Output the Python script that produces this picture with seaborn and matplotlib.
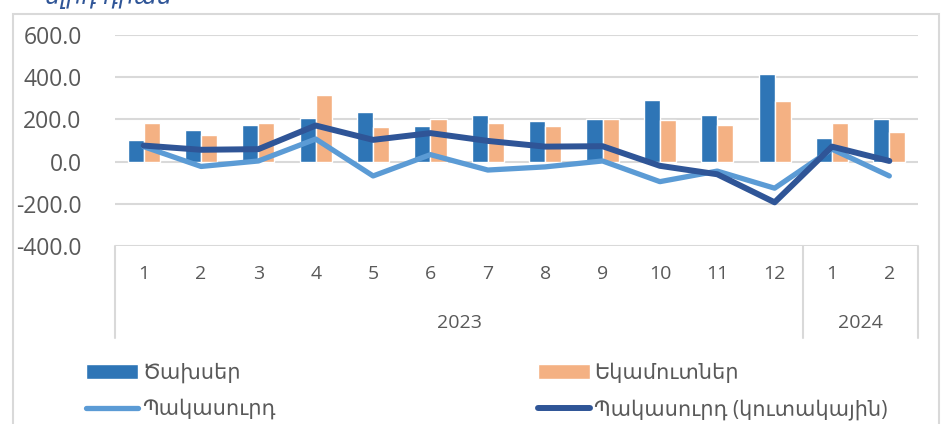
"""Budget expenditures, revenues and deficit by month (2023-2024)."""

import matplotlib

matplotlib.use("Agg")
import matplotlib.pyplot as plt
import matplotlib.transforms as mtransforms
import pandas as pd
import seaborn as sns
from matplotlib.patches import Rectangle

# ---- data --------------------------------------------------------------
months = ["1", "2", "3", "4", "5", "6", "7", "8", "9", "10", "11", "12", "1", "2"]
years = ["2023", "2024"]
year_first = [0, 12]   # first month index of each year
year_last = [11, 13]   # last month index of each year

expenditures = [103, 150, 174, 205, 234, 169, 222, 191, 200, 292, 219, 414, 112, 202]
revenues = [182, 126, 182, 316, 164, 203, 183, 168, 203, 197, 174, 287, 183, 138]
deficit = [71, -23, 3, 107, -68, 33, -40, -25, 3, -95, -45, -126, 59, -68]
deficit_cum = [76, 56, 59, 171, 103, 135, 98, 71, 73, -20, -60, -193, 71, 3]

y_ticks = [-400, -200, 0, 200, 400, 600]

lbl_exp = "Ծախսեր"
lbl_rev = "Եկամուտներ"
lbl_def = "Պակասուրդ"
lbl_cum = "Պակասուրդ (կուտակային)"
title = "մլրդ դրամ"

# ---- styling ------------------------------------------------------------
BAR_COLORS = {lbl_exp: "#2E75B6", lbl_rev: "#F4B183"}
LINE_COLORS = {lbl_def: "#5B9BD5", lbl_cum: "#2F5597"}
GRID = "#D9D9D9"
TEXT = "#595959"

sns.set_theme(style="white")
plt.rcParams["font.family"] = ["Open Sans", "DejaVu Sans"]

pos = list(range(len(months)))
bars = pd.DataFrame(
    {
        "pos": pos * 2,
        "value": expenditures + revenues,
        "series": [lbl_exp] * len(pos) + [lbl_rev] * len(pos),
    }
)
lines = pd.DataFrame(
    {
        "pos": pos * 2,
        "value": deficit + deficit_cum,
        "series": [lbl_def] * len(pos) + [lbl_cum] * len(pos),
    }
)

fig = plt.figure(figsize=(9.49, 4.24), dpi=100)
ax = fig.add_axes([115 / 949, 1 - 246 / 424, (918 - 115) / 949, (246 - 35) / 424])

sns.barplot(
    data=bars, x="pos", y="value", hue="series", palette=BAR_COLORS,
    width=0.56, gap=0, saturation=1, ax=ax, zorder=2,
)
sns.lineplot(
    data=lines[lines.series == lbl_def], x="pos", y="value", color=LINE_COLORS[lbl_def],
    lw=3.8, label=lbl_def, ax=ax, zorder=3, solid_capstyle="round",
)
sns.lineplot(
    data=lines[lines.series == lbl_cum], x="pos", y="value", color=LINE_COLORS[lbl_cum],
    lw=4.3, label=lbl_cum, ax=ax, zorder=4, solid_capstyle="round",
)

handles, labels = ax.get_legend_handles_labels()
hmap = dict(zip(labels, handles))
ax.get_legend().remove()

ax.set_xlim(-0.5, len(months) - 0.5)
ax.set_ylim(y_ticks[0], y_ticks[-1])
ax.set_yticks(y_ticks)
ax.set_yticklabels([f"{v:.1f}" for v in y_ticks], fontsize=16.5, color=TEXT)
ax.yaxis.grid(True, color=GRID, lw=1.5)
ax.set_axisbelow(True)
ax.set_xticks(pos)
ax.set_xticklabels(months, fontsize=14, color=TEXT)
ax.tick_params(axis="x", length=0, pad=14)
ax.tick_params(axis="y", length=0, pad=24)
ax.set_xlabel("")
ax.set_ylabel("")
for side in ["left", "right", "top", "bottom"]:
    ax.spines[side].set_visible(False)

# multi-level category axis: separators and year labels
trans = mtransforms.blended_transform_factory(ax.transData, ax.transAxes)
for x in [-0.5, 11.5, 13.5]:
    ax.plot([x, x], [0, -0.435], transform=trans, color=GRID, lw=1.5, clip_on=False)
for yr, a, b in zip(years, year_first, year_last):
    ax.text((a + b) / 2, -0.365, yr, transform=trans, ha="center", va="center",
            fontsize=14, color=TEXT)

# legends: two columns laid out like the original
legend_kw = dict(
    loc="upper left", frameon=False, fontsize=15, labelcolor=TEXT,
    handlelength=2.5, handletextpad=0.2, labelspacing=0.72,
    borderpad=0, borderaxespad=0,
)
fig.legend([hmap[lbl_exp], hmap[lbl_def]], [lbl_exp, lbl_def],
           bbox_to_anchor=(86 / 949, 1 - 363 / 424), **legend_kw)
fig.legend([hmap[lbl_rev], hmap[lbl_cum]], [lbl_rev, lbl_cum],
           bbox_to_anchor=(538 / 949, 1 - 363 / 424), **legend_kw)

# chart frame and clipped title at the very top
fig.patches.append(
    Rectangle((13 / 949, -0.05), (939 - 13) / 949, 1.05 - 14 / 424,
              transform=fig.transFigure, fill=False, edgecolor=GRID, lw=1.5)
)
fig.text(45 / 949, 1 - 4 / 424, title, fontsize=17, style="italic",
         color="#2F5597", ha="left", va="baseline")

fig.savefig("out.png", dpi=100)
